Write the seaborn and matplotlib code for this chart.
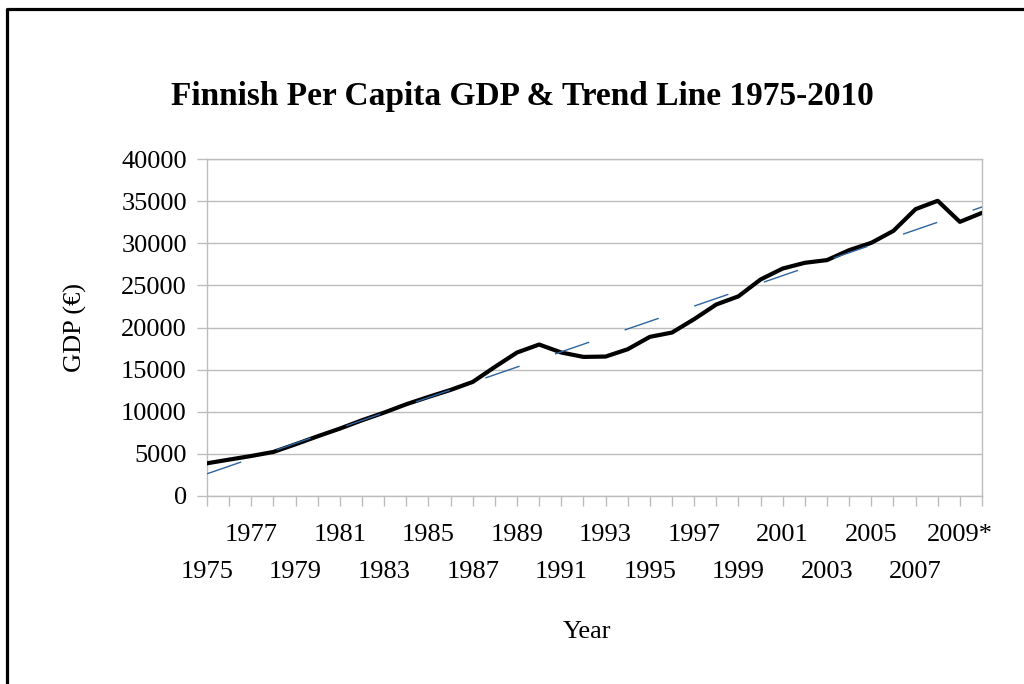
import matplotlib
matplotlib.use('Agg')
import matplotlib.pyplot as plt
import seaborn as sns
import pandas as pd
from matplotlib.lines import Line2D

# --- data ---
years = [str(y) for y in range(1975, 2009)] + ["2009*", "2010*"]
gdp = [3880, 4320, 4750, 5230, 6140, 7090, 8000, 8990, 9900, 10890,
       11760, 12590, 13540, 15320, 17030, 17980, 17030, 16510, 16550, 17420,
       18890, 19400, 20990, 22730, 23700, 25700, 27000, 27680, 28000, 29180,
       30050, 31470, 34050, 35040, 32540, 33610]
y_ticks = [0, 5000, 10000, 15000, 20000, 25000, 30000, 35000, 40000]

df = pd.DataFrame({"idx": range(len(years)), "year": years, "gdp": gdp})

sns.set_style("white")
plt.rcParams['font.family'] = ['Liberation Serif', 'DejaVu Serif']
plt.rcParams.update({"text.color": "black", "axes.labelcolor": "black",
                     "xtick.color": "black", "ytick.color": "black"})

fig = plt.figure(figsize=(10.24, 6.84), dpi=100)
ax = fig.add_axes([207 / 1024, 1 - 496 / 684, 775 / 1024, 337 / 684])

grey = "#bdbdbd"

# --- GDP line + linear trend ---
sns.lineplot(data=df, x="idx", y="gdp", ax=ax, color="black", linewidth=3.0, zorder=3)
sns.regplot(data=df, x="idx", y="gdp", ax=ax, scatter=False, ci=None, truncate=True,
            line_kws={"color": "#2e64a0", "linewidth": 1.0, "linestyle": (0, (26, 27)), "zorder": 4})

# --- axes ---
ax.set_xlim(0, len(years) - 1)
ax.set_ylim(0, 40000)
ax.set_yticks(y_ticks)
ax.set_yticklabels([str(v) for v in y_ticks], fontsize=19)
ax.yaxis.grid(True, color=grey, linewidth=1.0)
ax.set_axisbelow(True)

ax.set_xticks(list(df["idx"]))
ax.set_xticklabels([y if i % 2 == 0 else "" for i, y in enumerate(years)], fontsize=19)
for i, t in enumerate(ax.xaxis.get_major_ticks()):
    t.set_pad(13 if i % 4 == 2 else 39)

ax.tick_params(axis="both", direction="out", length=7.5, width=1.0, color=grey,
               labelcolor="black", bottom=True, left=True)
ax.tick_params(axis="y", pad=7)
for sp in ax.spines.values():
    sp.set_color(grey)
    sp.set_linewidth(1.0)

ax.set_xlabel("Year", fontsize=19)
ax.set_ylabel("GDP (€)", fontsize=19)
ax.xaxis.set_label_coords(0.49, -0.371)
ax.yaxis.set_label_coords(-0.155, 0.5)

fig.text(522 / 1024, 1 - 97 / 684, "Finnish Per Capita GDP & Trend Line 1975-2010",
         ha="center", va="center", fontsize=24, fontweight="bold", color="black")

# --- outer frame (top and left edge only) ---
fig.add_artist(Line2D([7 / 1024, 7 / 1024, 1.0], [0.0, 1 - 9 / 684, 1 - 9 / 684],
                      transform=fig.transFigure, color="black", linewidth=2.3))

fig.savefig("out.png", dpi=100)
